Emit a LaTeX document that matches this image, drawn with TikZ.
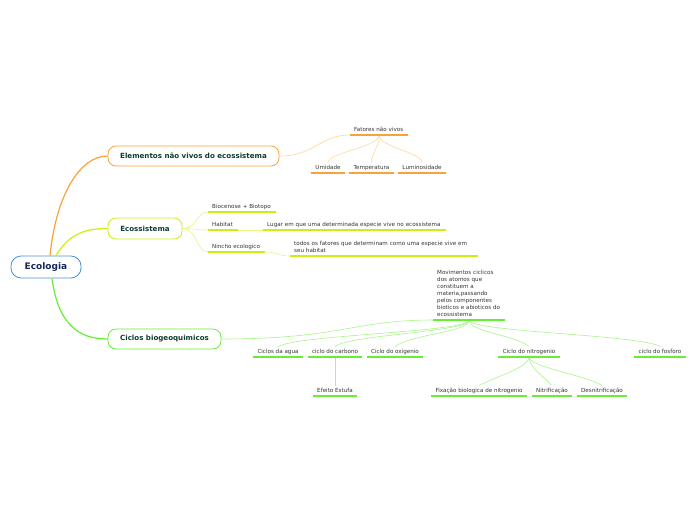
\documentclass[tikz,border=0pt]{standalone}
\usepackage{fontspec}
\setmainfont{DejaVu Sans}
\usetikzlibrary{calc}

\definecolor{orline}{HTML}{F7A33B}
\definecolor{orlight}{HTML}{FFD59A}
\definecolor{yeline}{HTML}{CCEE11}
\definecolor{yelight}{HTML}{E4F580}
\definecolor{grline}{HTML}{66EE33}
\definecolor{grlight}{HTML}{A8F58A}
\definecolor{ecoblue}{HTML}{4A90D6}
\definecolor{ecodark}{HTML}{14285A}
\definecolor{topictext}{HTML}{0E3D30}
\definecolor{leaftext}{HTML}{333333}

\tikzset{
  topic/.style={draw=#1, line width=0.8pt, rounded corners=8pt, fill=white,
    font=\fontsize{7.1}{8.5}\selectfont\bfseries, text=topictext, minimum height=20pt},
  block/.style={font=\fontsize{5.6}{7}\selectfont, text=leaftext, inner xsep=4pt, inner ysep=3pt, align=left},
  leaf/.style={block, inner ysep=2.2pt, text depth=1.4pt},
  uline/.style={draw=#1, line width=1.8pt},
  branch/.style={draw=#1, line width=1.2pt},
  twig/.style={draw=#1, line width=0.6pt},
}

\begin{document}
\begin{tikzpicture}[x=1pt, y=-1pt]
    \useasboundingbox (0,0) rectangle (696,520);

    % Draw central topic
    \node[topic=ecoblue, text=ecodark, font=\fontsize{9}{11}\selectfont\bfseries,
      minimum width=70pt, minimum height=22pt, rounded corners=10pt] (eco) at (46,267) {Ecologia};

    % Draw main topics
    \node[topic=orline, minimum width=171pt] (elem) at (193.5,156) {Elementos não vivos do ecossistema};
    \node[topic=yeline, minimum width=74pt, minimum height=21pt] (ecos) at (145,228.5) {Ecossistema};
    \node[topic=grline, minimum width=113pt] (cic) at (164.5,339) {Ciclos biogeoquimicos};

    % Orange subtopics
    \node[leaf, anchor=south west, text width=50pt] (fat) at (350,135) {Fatores não vivos};
    \node[leaf, anchor=south, minimum width=34pt] (umi) at (328,173) {Umidade};
    \node[leaf, anchor=south, minimum width=45pt] (tem) at (371.5,173) {Temperatura};
    \node[leaf, anchor=south, minimum width=48pt] (lum) at (422,173) {Luminosidade};

    % Yellow subtopics
    \node[leaf, anchor=south west, text width=60pt] (bio) at (208,212) {Biocenose + Biotopo};
    \node[leaf, anchor=south west, text width=22pt] (hab) at (208,230) {Habitat};
    \node[leaf, anchor=south west, text width=175pt] (lug) at (263,230) {Lugar em que uma determinada especie vive no ecossistema};
    \node[leaf, anchor=south west, text width=49pt] (nin) at (208,252) {Nincho ecologico};
    \node[block, anchor=south west, text width=180pt] (tod) at (290,256) {todos os fatores que determinam como uma especie vive em\\seu habitat};

    % Green subtopics
    \node[block, anchor=south west, text width=64pt] (mov) at (433,320) {Movimentos ciclicos\\dos atomos que\\constituem a\\materia,passando\\pelos componentes\\bioticos e abioticos do\\ecossistema};
    \node[leaf, anchor=south, minimum width=50pt] (agu) at (278,357) {Ciclos da agua};
    \node[leaf, anchor=south, minimum width=54pt] (car) at (335,357) {ciclo do carbono};
    \node[leaf, anchor=south, minimum width=56pt] (oxi) at (395,357) {Ciclo do oxigenio};
    \node[leaf, anchor=south, minimum width=62pt] (nit) at (529,357) {Ciclo do nitrogenio};
    \node[leaf, anchor=south, minimum width=52pt] (fos) at (660,357) {ciclo do fosforo};
    \node[leaf, anchor=south, minimum width=44pt] (efe) at (335,396) {Efeito Estufa};
    \node[leaf, anchor=south, minimum width=96pt] (fix) at (479,396) {Fixação biologica de nitrogenio};
    \node[leaf, anchor=south, minimum width=40pt] (ntr) at (552,396) {Nitrificação};
    \node[leaf, anchor=south, minimum width=50pt] (des) at (602,396) {Desnitrificação};

    % Draw main branches
    \draw[branch=orline] ([xshift=4pt]eco.north) .. controls +(6,-60) and +(-28,0) .. (elem.west);
    \draw[branch=yeline] ([xshift=10pt]eco.north) .. controls +(12,-20) and +(-25,0) .. (ecos.west);
    \draw[branch=grline] ([xshift=6pt]eco.south) .. controls +(6,45) and +(-30,0) .. (cic.west);

    % Orange connectors
    \draw[twig=orlight] (elem.east) .. controls +(35,0) and +(-30,0) .. (fat.south west);
    \foreach \n in {umi,tem,lum}
        \draw[twig=orlight] (fat.south) .. controls +(0,12) and +(0,-10) .. (\n.north);

    % Yellow connectors
    \draw[twig=yelight] (ecos.east) .. controls +(15,0) and +(-12,0) .. (bio.south west);
    \draw[twig=yelight] (ecos.east) .. controls +(12,0) and +(-12,0) .. (hab.south west);
    \draw[twig=yelight] (ecos.east) .. controls +(15,0) and +(-12,0) .. (nin.south west);
    \draw[twig=yelight] (hab.south east) -- (lug.south west);
    \draw[twig=yelight] (nin.south east) .. controls +(12,0) and +(-12,0) .. (tod.south west);

    % Green connectors
    \draw[twig=grlight] (cic.east) .. controls +(120,0) and +(-80,0) .. (mov.south west);
    \foreach \n/\d in {agu/22, car/15, oxi/15, nit/-15, fos/-20}
        \draw[twig=grlight] (mov.south) .. controls +(0,12) and +(\d,-12) .. (\n.north);
    \draw[twig=grlight] (car.south) -- (efe.north);
    \foreach \n/\d in {fix/20, ntr/-10, des/-15}
        \draw[twig=grlight] (nit.south) .. controls +(0,10) and +(\d,-10) .. (\n.north);

    % Underlines
    \foreach \n in {fat,umi,tem,lum}
        \draw[uline=orline] (\n.south west) -- (\n.south east);
    \foreach \n in {bio,hab,lug,nin,tod}
        \draw[uline=yeline] (\n.south west) -- (\n.south east);
    \foreach \n in {mov,agu,car,oxi,nit,fos,efe,fix,ntr,des}
        \draw[uline=grline] (\n.south west) -- (\n.south east);
\end{tikzpicture}
\end{document}
